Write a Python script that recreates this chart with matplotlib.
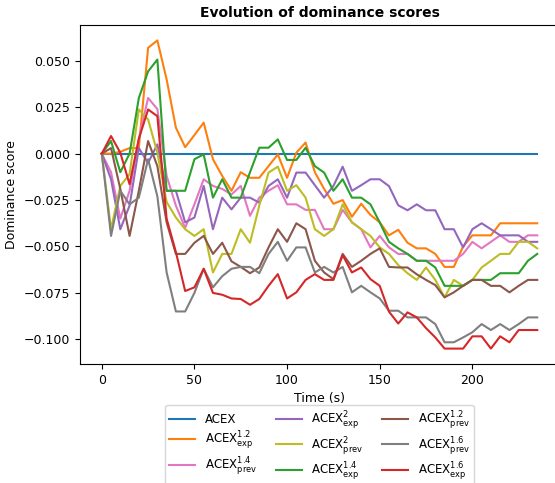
import numpy as np
import matplotlib
matplotlib.use("Agg")
import matplotlib.pyplot as plt

time_s = list(range(0, 240, 5))  # 48 points, 0..235 s

acex = [0.0] * 48

acex_exp_12 = [0.000, 0.000, 0.001, 0.003, 0.003, 0.057, 0.061, 0.040, 0.014, 0.0035,
               0.010, 0.0167, -0.003, -0.012, -0.020, -0.010, -0.013, -0.013, -0.0067, -0.0004,
               -0.013, 0.0005, 0.006, -0.010, -0.019, -0.027, -0.025, -0.034, -0.027, -0.033,
               -0.037, -0.044, -0.041, -0.048, -0.051, -0.051, -0.054, -0.061, -0.061, -0.050,
               -0.044, -0.044, -0.044, -0.0375, -0.0375, -0.0375, -0.0375, -0.0375]

acex_prev_14 = [0.000, -0.010, -0.035, -0.020, 0.008, 0.030, 0.024, -0.012, -0.028, -0.040,
                -0.0273, -0.0138, -0.0174, -0.019, -0.022, -0.0174, -0.0335, -0.0237, -0.020, -0.017,
                -0.0273, -0.0273, -0.0303, -0.0303, -0.0407, -0.0407, -0.0303, -0.037, -0.0407, -0.0505,
                -0.0443, -0.0505, -0.054, -0.054, -0.0577, -0.0577, -0.0577, -0.0577, -0.0577, -0.054,
                -0.0475, -0.051, -0.0475, -0.044, -0.0475, -0.0475, -0.044, -0.044]

acex_exp_2 = [0.000, -0.0138, -0.0407, -0.028, 0.003, -0.005, 0.005, -0.020, -0.020, -0.037,
              -0.0344, -0.0174, -0.0407, -0.0237, -0.030, -0.0237, -0.0237, -0.0264, -0.0174, -0.0138,
              -0.0237, -0.0102, -0.0102, -0.017, -0.0237, -0.0174, -0.007, -0.020, -0.017, -0.0138,
              -0.0138, -0.0175, -0.0278, -0.0305, -0.0273, -0.0305, -0.0305, -0.0407, -0.0407, -0.0505,
              -0.0407, -0.0375, -0.0407, -0.044, -0.044, -0.044, -0.0475, -0.0475]

acex_prev_2 = [0.000, -0.0407, -0.0174, -0.011, 0.0238, 0.0184, 0.0005, -0.026, -0.0344, -0.0407,
               -0.0443, -0.0407, -0.064, -0.054, -0.054, -0.0407, -0.048, -0.028, -0.0102, -0.007,
               -0.020, -0.017, -0.0237, -0.0407, -0.0443, -0.0407, -0.0273, -0.037, -0.0407, -0.0443,
               -0.0505, -0.054, -0.060, -0.0644, -0.068, -0.0613, -0.068, -0.0774, -0.068, -0.0712,
               -0.068, -0.0613, -0.0577, -0.054, -0.054, -0.0475, -0.0475, -0.051]

acex_exp_14 = [0.000, 0.0068, -0.010, 0.000, 0.030, 0.0443, 0.0507, -0.020, -0.020, -0.020,
               -0.003, -0.0004, -0.0237, -0.0138, -0.0237, -0.0237, -0.010, 0.0032, 0.0032, 0.0077,
               -0.0034, -0.0034, 0.0032, -0.0067, -0.0102, -0.020, -0.0138, -0.0237, -0.0237, -0.0273,
               -0.037, -0.0475, -0.051, -0.054, -0.0577, -0.0577, -0.0613, -0.0712, -0.0712, -0.0712,
               -0.068, -0.068, -0.068, -0.0644, -0.0644, -0.0644, -0.0577, -0.054]

acex_prev_12 = [0.000, 0.003, -0.019, -0.0443, -0.020, 0.0068, -0.0067, -0.037, -0.054, -0.054,
                -0.048, -0.0443, -0.054, -0.048, -0.058, -0.061, -0.0644, -0.0613, -0.0505, -0.0407,
                -0.0475, -0.0375, -0.0407, -0.0577, -0.064, -0.0676, -0.054, -0.061, -0.0577, -0.054,
                -0.051, -0.061, -0.0613, -0.0613, -0.065, -0.068, -0.0708, -0.0774, -0.0747, -0.0712,
                -0.068, -0.068, -0.0712, -0.0712, -0.0747, -0.0712, -0.068, -0.068]

acex_prev_16 = [0.000, -0.0443, -0.020, -0.0273, -0.0237, -0.003, -0.023, -0.064, -0.085, -0.085,
                -0.075, -0.062, -0.072, -0.066, -0.062, -0.061, -0.061, -0.0644, -0.054, -0.0475,
                -0.0577, -0.0505, -0.0505, -0.064, -0.061, -0.064, -0.061, -0.0747, -0.0712, -0.0747,
                -0.078, -0.0846, -0.0846, -0.0882, -0.0882, -0.0882, -0.0918, -0.1016, -0.1016, -0.099,
                -0.0962, -0.0918, -0.095, -0.0918, -0.095, -0.0918, -0.0882, -0.0882]

acex_exp_16 = [0.000, 0.0095, 0.0005, -0.0165, 0.008, 0.0238, 0.0202, -0.035, -0.053, -0.074,
               -0.072, -0.062, -0.075, -0.076, -0.078, -0.0783, -0.0814, -0.0783, -0.0712, -0.0649,
               -0.078, -0.0747, -0.068, -0.0649, -0.068, -0.068, -0.0547, -0.064, -0.0613, -0.0676,
               -0.0712, -0.0851, -0.0915, -0.0855, -0.0882, -0.094, -0.099, -0.105, -0.105, -0.105,
               -0.0984, -0.0984, -0.105, -0.0984, -0.1016, -0.095, -0.095, -0.095]

series = [
    (r"ACEX", acex, "#1f77b4"),
    (r"ACEX$^{1.2}_{\mathrm{exp}}$", acex_exp_12, "#ff7f0e"),
    (r"ACEX$^{1.4}_{\mathrm{prev}}$", acex_prev_14, "#e377c2"),
    (r"ACEX$^{2}_{\mathrm{exp}}$", acex_exp_2, "#9467bd"),
    (r"ACEX$^{2}_{\mathrm{prev}}$", acex_prev_2, "#bcbd22"),
    (r"ACEX$^{1.4}_{\mathrm{exp}}$", acex_exp_14, "#2ca02c"),
    (r"ACEX$^{1.2}_{\mathrm{prev}}$", acex_prev_12, "#8c564b"),
    (r"ACEX$^{1.6}_{\mathrm{prev}}$", acex_prev_16, "#7f7f7f"),
    (r"ACEX$^{1.6}_{\mathrm{exp}}$", acex_exp_16, "#d62728"),
]

plt.rcParams['font.family'] = ['DejaVu Sans']
plt.rcParams['font.size'] = 9

fig = plt.figure(figsize=(5.55, 4.83), dpi=100)
ax = fig.add_axes([80/555, 119/483, 479/555, 339/483])

for label, vals, color in series:
    ax.plot(time_s, vals, label=label, color=color, linewidth=1.5)

ax.set_title("Evolution of dominance scores", fontweight="bold", fontsize=10)
ax.set_xlabel("Time (s)", fontsize=9)
ax.set_ylabel("Dominance score", fontsize=9)
ax.tick_params(labelsize=9)

fig.legend(loc="upper center", bbox_to_anchor=(319.5/555, 1 - 405/483),
           ncol=3, fontsize=8.5, borderaxespad=0, labelspacing=0.3,
           columnspacing=1.6, handlelength=2.2, borderpad=0.35)

fig.savefig("out.png", dpi=100)
